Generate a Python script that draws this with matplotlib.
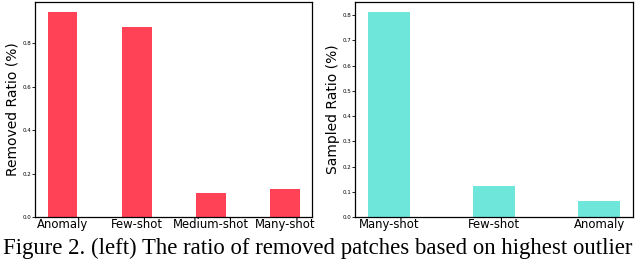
import numpy as np
import matplotlib.pyplot as plt

# ---------------------
# Data
removed_labels = ["Anomaly", "Few-shot", "Medium-shot", "Many-shot"]
removed_ratio = [0.943, 0.877, 0.112, 0.129]

sampled_labels = ["Many-shot", "Few-shot", "Anomaly"]
sampled_ratio = [0.811, 0.124, 0.063]

red = "#ff4255"
cyan = "#6fe6da"

caption = "Figure 2. (left) The ratio of removed patches based on highest outlier"


def bar_panel(ax, labels, values, color, ylabel, yticks):
    x = np.arange(len(labels))
    ax.bar(x, values, width=0.4, color=color)
    ax.set_xticks(x)
    ax.set_xticklabels(labels, fontsize=8.4)
    ax.set_yticks(yticks)
    ax.set_yticklabels(["%.1f" % t for t in yticks], fontsize=4)
    ax.set_ylabel(ylabel, fontsize=10, labelpad=2)
    ax.tick_params(axis="x", length=0, pad=1)
    ax.tick_params(axis="y", length=2, pad=1, width=0.6)
    for s in ax.spines.values():
        s.set_linewidth(0.9)


fig = plt.figure(figsize=(6.4, 2.65), dpi=100)

ax1 = fig.add_axes([0.055, 0.181, 0.433, 0.811])
bar_panel(ax1, removed_labels, removed_ratio, red, "Removed Ratio (%)",
          [0.0, 0.2, 0.4, 0.6, 0.8])

ax2 = fig.add_axes([0.555, 0.181, 0.434, 0.811])
bar_panel(ax2, sampled_labels, sampled_ratio, cyan, "Sampled Ratio (%)",
          [0.0, 0.1, 0.2, 0.3, 0.4, 0.5, 0.6, 0.7, 0.8])

fig.text(0.004, 0.062, caption, fontsize=16.4, family="Liberation Serif",
         ha="left", va="center")

fig.savefig("out.png", dpi=100)
